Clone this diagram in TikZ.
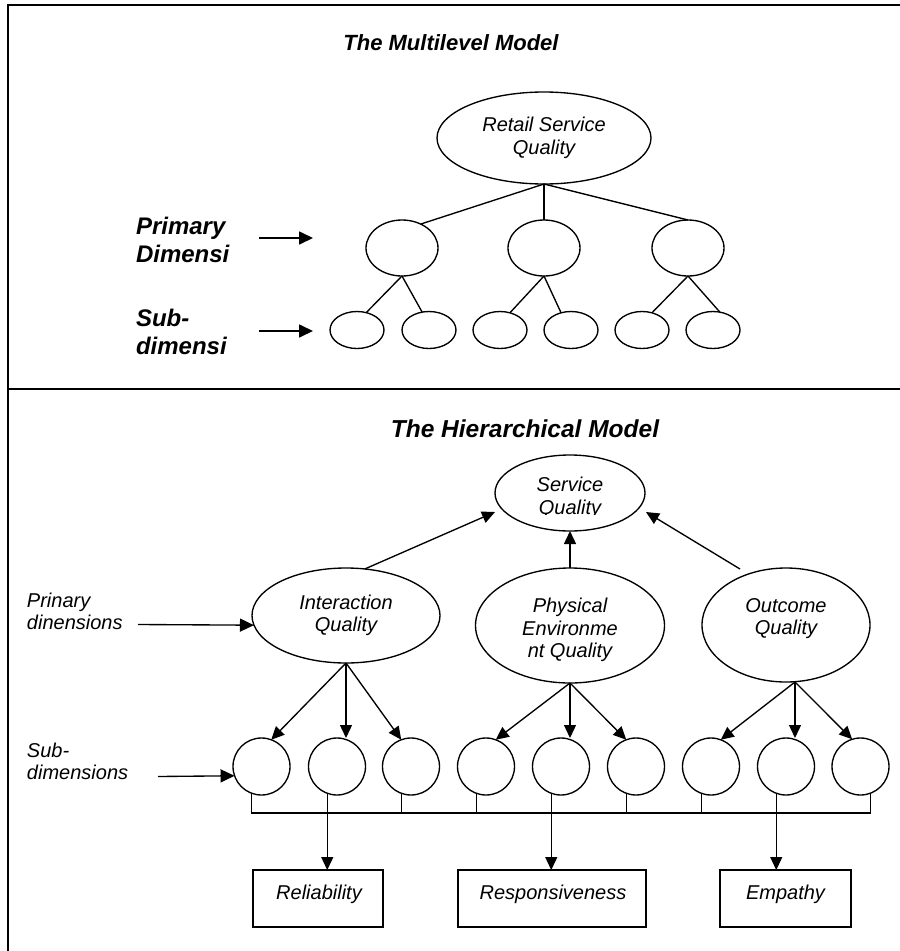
\documentclass[tikz,border=0pt]{standalone}
\usepackage{fontspec}
\setmainfont{Liberation Sans}
\usetikzlibrary{shapes.geometric,arrows.meta,calc}

\begin{document}
\begin{tikzpicture}[x=1pt,y=-1pt,
  every node/.style={inner sep=0pt, outer sep=0pt},
  ln/.style={line width=1.35pt},
  oval/.style={ellipse, draw, line width=1.35pt},
  ring/.style={circle, draw, line width=1.35pt, minimum size=57pt},
  txt/.style={font=\fontsize{20}{22.5}\selectfont\itshape, align=center},
  side/.style={font=\fontsize{20}{22}\selectfont\itshape, align=left},
  big/.style={font=\fontsize{24}{28}\selectfont\bfseries\itshape, align=left},
  arr/.style={line width=1.35pt, -{Triangle[length=13pt,width=12pt]}},
  sidearr/.style={line width=1.7pt, -{Triangle[length=14pt,width=13pt]}},
  outbox/.style={draw, rectangle, line width=1.35pt, minimum height=57pt},
  frameline/.style={line width=2.5pt},
]
\useasboundingbox (0,0) rectangle (900,951);

% frame and divider
\draw[frameline] (8,5) -- (900,5);
\draw[line width=2.2pt] (8,4) -- (8,951);
\draw[frameline] (8,389) -- (900,389);

% ---------- multilevel model ----------
\node[font=\fontsize{22}{26}\selectfont\bfseries\itshape, anchor=base] (t1) at (451,50) {The Multilevel Model};
\node[oval, minimum width=214pt, minimum height=92pt, txt] (rsq) at (544,138) {Retail Service\\Quality};
\foreach \n/\x in {1/402,2/544,3/688}
  \node[oval, minimum width=72pt, minimum height=56pt] (p\n) at (\x,248) {};
\foreach \n/\x in {1/357,2/429,3/500,4/571,5/642,6/713}
  \node[oval, minimum width=54pt, minimum height=37pt] (s\n) at (\x,330) {};

\draw[ln] (rsq.south) -- (p1.52);
\draw[ln] (rsq.south) -- (p2.north);
\draw[ln] (rsq.south) -- (p3.north);
\draw[ln] (p1.south) -- (s1.62);
\draw[ln] (p1.south) -- (s2.111);
\draw[ln] (p2.south) -- (s3.60);
\draw[ln] (p2.south) -- (s4.120);
\draw[ln] (p3.south) -- (s5.60);
\draw[ln] (p3.south) -- (s6.69);

\node[big, anchor=west] (pdim) at (136,240.4) {Primary\\Dimensi};
\node[big, anchor=west] (sdim) at (136,332.4) {Sub-\\dimensi};
\coordinate (pa) at (259,238);
\coordinate (pb) at (313,238);
\coordinate (sa) at (259,331);
\coordinate (sb) at (313,331);
\draw[sidearr] (pa) -- (pb);
\draw[sidearr] (sa) -- (sb);

% ---------- hierarchical model ----------
\node[font=\fontsize{24.5}{28}\selectfont\bfseries\itshape, anchor=base] (t2) at (525,437) {The Hierarchical Model};

\node[oval, minimum width=150pt, minimum height=76pt] (sq) at (570,493) {};
\begin{scope}
  \clip ($(sq.center)+(-75,-38)$) rectangle ($(sq.center)+(75,21)$);
  \node[txt] (sqt) at ($(sq.center)+(0,5)$) {Service\\Quality};
\end{scope}

\node[oval, minimum width=188pt, minimum height=95pt, txt] (iq) at (346,615.5) {Interaction\\Quality};
\node[oval, minimum width=189pt, minimum height=115pt] (peq) at (570,625.5) {};
\node[txt] (peqt) at ($(peq.center)+(0,4.5)$) {Physical\\Environme\\nt Quality};
\node[oval, minimum width=168pt, minimum height=114pt] (oq) at (786,625) {};
\node[txt] (oqt) at ($(oq.center)+(0,-6.5)$) {Outcome\\Quality};

% primary dimensions feed service quality
\draw[arr] (iq.68) -- ($(sq.center)+(-75,19)$);
\draw[arr] (peq.north) -- (sq.south);
\draw[arr] ($(oq.center)+(-46,-56)$) -- ($(sq.center)+(76,19)$);

% sub-dimensions
\foreach \n/\x in {1/261.5,2/337,3/411,4/486,5/561,6/636,7/711,8/786,9/860.5}
  \node[ring] (d\n) at (\x,766.5) {};

\draw[arr] (iq.south) -- (d1.70);
\draw[arr] (iq.south) -- (iq.south |- d2.north);
\draw[arr] (iq.south) -- (d3.110);
\draw[arr] (peq.south) -- (d4.70);
\draw[arr] (peq.south) -- (peq.south |- d5.north);
\draw[arr] (peq.south) -- (d6.110);
\coordinate (oqr) at ($(oq.south)+(9,0)$);
\draw[arr] (oqr) -- (d7.70);
\draw[arr] (oqr) -- (oqr |- d8.north);
\draw[arr] (oqr) -- (d9.107);

% common bus below the sub-dimensions
\coordinate (bus) at (0,813);
\draw[ln] (d1.250) |- (bus -| d9.290) -- (d9.290);
\foreach \n in {3,4,6,7}
  \draw[ln] (d\n.250) -- (d\n.250 |- bus);

% outcome boxes
\node[outbox, minimum width=130pt] (rel) at (318,898.5) {};
\node[outbox, minimum width=188pt] (res) at (552,898.5) {};
\node[outbox, minimum width=131pt] (emp) at (785.5,898.5) {};
\node[txt] (relt) at ($(rel.center)+(1,-4.5)$) {Reliability};
\node[txt] (rest) at ($(res.center)+(1,-4.5)$) {Responsiveness};
\node[txt] (empt) at ($(emp.center)+(0,-4.5)$) {Empathy};

\draw[arr] (d2.250) -- (d2.250 |- rel.north);
\draw[arr] (d5.250) -- (d5.250 |- res.north);
\draw[arr] (d8.250) -- (d8.250 |- emp.north);

% side labels
\node[side, anchor=west] (prim) at (27,611.5) {Prinary\\dinensions};
\coordinate (pra) at (138,624.5);
\draw[sidearr, line width=1.35pt] (pra) -- (iq.186);
\node[side, anchor=west] (subd) at (27,761.4) {Sub-\\dimensions};
\coordinate (sua) at (158,776.5);
\draw[sidearr, line width=1.35pt] (sua) -- (d1.199);
\end{tikzpicture}
\end{document}
